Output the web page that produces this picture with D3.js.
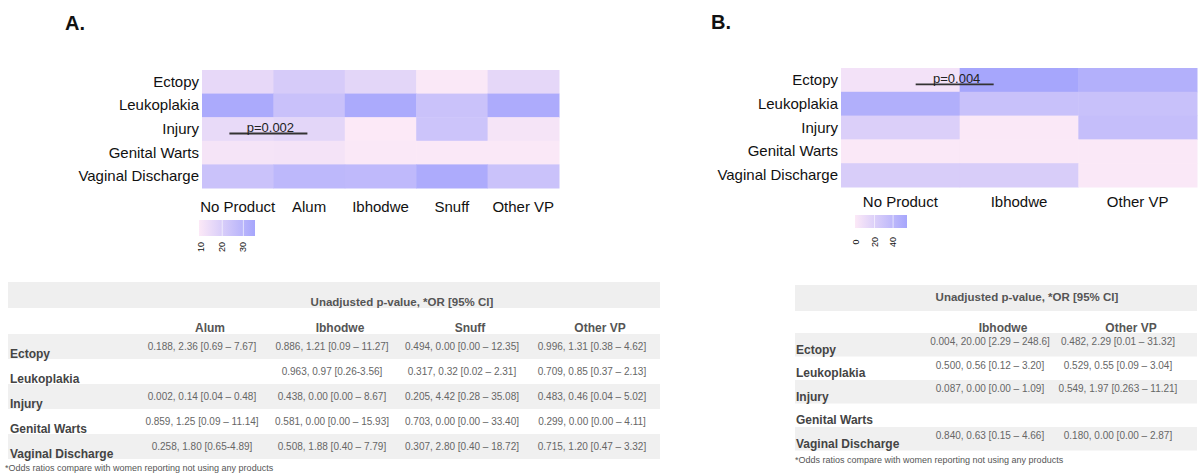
<!DOCTYPE html>
<html>
<head>
<meta charset="utf-8">
<script src="https://cdn.jsdelivr.net/npm/d3@7"></script>
<style>
  body { margin: 0; background: #fff; }
  svg text { font-family: "Liberation Sans", Arial, sans-serif; }
</style>
</head>
<body>
<div id="canvas"></div>
<script>
// rows of both heatmaps and both tables
const conditions = ["Ectopy", "Leukoplakia", "Injury", "Genital Warts", "Vaginal Discharge"]

// panel A heatmap (prevalence, %)
const productsA = ["No Product", "Alum", "Ibhodwe", "Snuff", "Other VP"]
const prevalenceA = [
  [16, 21, 17, 10, 16.5],
  [34, 25, 34, 24.5, 33.5],
  [15.5, 17, 9.5, 24, 11.5],
  [11.5, 12, 10, 10, 10],
  [24.5, 28.5, 28, 33.5, 24.5]
]
const colorDomainA = [9.5, 35.5]
const legendTicksA = [10, 20, 30]
const pNoteA = { row: "Injury", from: "No Product", to: "Alum", label: "p=0.002" }

// panel B heatmap
const productsB = ["No Product", "Ibhodwe", "Other VP"]
const prevalenceB = [
  [5.5, 55, 47],
  [48, 33, 33],
  [21, 1, 35],
  [1, 1, 1],
  [23, 23, 1]
]
const colorDomainB = [0, 55]
const legendTicksB = [0, 20, 40]
const pNoteB = { row: "Ectopy", from: "No Product", to: "Ibhodwe", label: "p=0.004" }

// tables
const tableTitle = "Unadjusted p-value, *OR [95% CI]"
const tableFootnote = "*Odds ratios compare with women reporting not using any  products"
const tableColsA = ["Alum", "Ibhodwe", "Snuff", "Other VP"]
const tableA = [
  ["0.188, 2.36 [0.69 \u2013 7.67]", "0.886, 1.21 [0.09 \u2013 11.27]", "0.494, 0.00 [0.00 \u2013 12.35]", "0.996, 1.31 [0.38 \u2013 4.62]"],
  ["", "0.963, 0.97 [0.26-3.56]", "0.317, 0.32 [0.02 \u2013 2.31]", "0.709, 0.85 [0.37 \u2013 2.13]"],
  ["0.002, 0.14 [0.04 \u2013 0.48]", "0.438, 0.00 [0.00 \u2013 8.67]", "0.205, 4.42 [0.28 \u2013 35.08]", "0.483, 0.46 [0.04 \u2013 5.02]"],
  ["0.859, 1.25 [0.09 \u2013 11.14]", "0.581, 0.00 [0.00 \u2013 15.93]", "0.703, 0.00 [0.00 \u2013 33.40]", "0.299, 0.00 [0.00 \u2013 4.11]"],
  ["0.258, 1.80 [0.65-4.89]", "0.508, 1.88 [0.40 \u2013 7.79]", "0.307, 2.80 [0.40 \u2013 18.72]", "0.715, 1.20 [0.47 \u2013 3.32]"]
]
const tableColsB = ["Ibhodwe", "Other VP"]
const tableB = [
  ["0.004, 20.00 [2.29 \u2013 248.6]", "0.482, 2.29 [0.01 \u2013 31.32]"],
  ["0.500, 0.56 [0.12 \u2013 3.20]", "0.529, 0.55 [0.09 \u2013 3.04]"],
  ["0.087, 0.00 [0.00 \u2013 1.09]", "0.549, 1.97 [0.263 \u2013 11.21]"],
  ["", ""],
  ["0.840, 0.63 [0.15 \u2013 4.66]", "0.180, 0.00 [0.00 \u2013 2.87]"]
]

let svg = {}

window.onload = function () { setup() }

function setup() {
  svg = d3.select("#canvas")
    .append("svg")
    .attr("width", 1199)
    .attr("height", 475)

  drawHeatmap({
    id: "A", title: "A.", titleX: 65, titleY: 30,
    products: productsA, values: prevalenceA, domain: colorDomainA,
    ticks: legendTicksA, note: pNoteA,
    x: [202, 559], y: [70, 188], colLabelY: 212,
    legendX: [199, 255], legendY: [220, 236], tickY: 247
  })
  drawHeatmap({
    id: "B", title: "B.", titleX: 711, titleY: 29,
    products: productsB, values: prevalenceB, domain: colorDomainB,
    ticks: legendTicksB, note: pNoteB,
    x: [841, 1197], y: [68, 187], colLabelY: 207,
    legendX: [855, 907], legendY: [215, 228], tickY: 242
  })

  drawTable({
    cols: tableColsA, cells: tableA,
    x: [8, 660], band: [282, 308], titleX: 402, titleY: 306,
    valRange: [137, 657], headDx: 8, headY: 332,
    rowTop: 334, rowH: 25, labelX: 10, labelDy: 23.5, valueDy: 15.5,
    footX: 5, footY: 471
  })
  drawTable({
    cols: tableColsB, cells: tableB,
    x: [795, 1197], band: [285, 311], titleX: 1027, titleY: 301,
    valRange: [926, 1182], headDx: 13, headY: 332,
    rowTop: 333, rowH: 23.5, labelX: 796, labelDy: 20.5, valueDy: 12,
    footX: 795, footY: 463
  })
}

function drawHeatmap(p) {
  let g = svg.append("g")

  g.append("text")
    .attr("x", p.titleX)
    .attr("y", p.titleY)
    .attr("font-size", 20)
    .attr("font-weight", "bold")
    .attr("fill", "#111")
    .text(p.title)

  let x = d3.scaleBand().domain(p.products).range(p.x)
  let y = d3.scaleBand().domain(conditions).range(p.y)
  let color = d3.scaleLinear()
    .domain(p.domain)
    .range(["#fce9f7", "#a6a6fc"])
    .interpolate(d3.interpolateRgb)
    .clamp(true)

  let cells = []
  conditions.forEach((c, i) => {
    p.products.forEach((prod, j) => {
      cells.push({ row: c, col: prod, value: p.values[i][j] })
    })
  })

  g.selectAll("rect.cell")
    .data(cells)
    .join("rect")
    .attr("class", "cell")
    .attr("x", d => x(d.col))
    .attr("y", d => y(d.row))
    .attr("width", x.bandwidth() + 0.5)
    .attr("height", y.bandwidth() + 0.5)
    .attr("fill", d => color(d.value))

  g.selectAll("text.rowlab")
    .data(conditions)
    .join("text")
    .attr("class", "rowlab")
    .attr("x", p.x[0] - 3)
    .attr("y", d => y(d) + y.bandwidth() / 2 + 5)
    .attr("text-anchor", "end")
    .attr("font-size", 15)
    .attr("fill", "#111")
    .text(d => d)

  g.selectAll("text.collab")
    .data(p.products)
    .join("text")
    .attr("class", "collab")
    .attr("x", d => x(d) + x.bandwidth() / 2)
    .attr("y", p.colLabelY)
    .attr("text-anchor", "middle")
    .attr("font-size", 15)
    .attr("fill", "#111")
    .text(d => d)

  // p-value annotation
  let mid = (x(p.note.from) + x(p.note.to)) / 2 + x.bandwidth() / 2 - 5
  let lineY = y(p.note.row) + y.bandwidth() * 0.69
  g.append("line")
    .attr("x1", mid - 39)
    .attr("x2", mid + 39)
    .attr("y1", lineY)
    .attr("y2", lineY)
    .attr("stroke", "#333")
    .attr("stroke-width", 1.8)
  g.append("text")
    .attr("x", mid + 2)
    .attr("y", lineY - 1.5)
    .attr("text-anchor", "middle")
    .attr("font-size", 13)
    .attr("fill", "#222")
    .text(p.note.label)

  // colour key
  let lx = d3.scaleLinear().domain(p.domain).range([p.legendX[0] + 1, p.legendX[1]])
  let grad = svg.append("defs").append("linearGradient")
    .attr("id", "grad" + p.id)
  grad.append("stop").attr("offset", "0%").attr("stop-color", color(p.domain[0]))
  grad.append("stop").attr("offset", "100%").attr("stop-color", color(p.domain[1]))

  g.append("rect")
    .attr("x", p.legendX[0])
    .attr("y", p.legendY[0])
    .attr("width", p.legendX[1] - p.legendX[0])
    .attr("height", p.legendY[1] - p.legendY[0])
    .attr("fill", "url(#grad" + p.id + ")")

  g.selectAll("line.sep")
    .data(p.ticks.slice(1))
    .join("line")
    .attr("class", "sep")
    .attr("x1", d => lx(d))
    .attr("x2", d => lx(d))
    .attr("y1", p.legendY[0])
    .attr("y2", p.legendY[1])
    .attr("stroke", "#fff")
    .attr("stroke-opacity", 0.6)

  g.selectAll("text.tick")
    .data(p.ticks)
    .join("text")
    .attr("class", "tick")
    .attr("transform", d => "translate(" + (lx(d) + 3) + "," + p.tickY + ") rotate(-90)")
    .attr("text-anchor", "middle")
    .attr("font-size", 9)
    .attr("fill", "#111")
    .text(d => d)
}

function drawTable(t) {
  let g = svg.append("g")
  let col = d3.scaleBand().domain(t.cols).range(t.valRange)
  let row = d3.scaleBand().domain(conditions)
    .range([t.rowTop, t.rowTop + t.rowH * conditions.length])

  g.append("rect")
    .attr("x", t.x[0])
    .attr("y", t.band[0])
    .attr("width", t.x[1] - t.x[0])
    .attr("height", t.band[1] - t.band[0])
    .attr("fill", "#efefef")

  g.append("text")
    .attr("x", t.titleX)
    .attr("y", t.titleY)
    .attr("text-anchor", "middle")
    .attr("font-size", 11.5)
    .attr("font-weight", "bold")
    .attr("fill", "#555")
    .text(tableTitle)

  g.selectAll("rect.stripe")
    .data(conditions.filter((d, i) => i % 2 == 0))
    .join("rect")
    .attr("class", "stripe")
    .attr("x", t.x[0])
    .attr("y", d => row(d))
    .attr("width", t.x[1] - t.x[0])
    .attr("height", row.bandwidth())
    .attr("fill", "#f0f0f0")

  g.selectAll("text.head")
    .data(t.cols)
    .join("text")
    .attr("class", "head")
    .attr("x", d => col(d) + col.bandwidth() / 2 + t.headDx)
    .attr("y", t.headY)
    .attr("text-anchor", "middle")
    .attr("font-size", 12)
    .attr("font-weight", "bold")
    .attr("fill", "#555")
    .text(d => d)

  g.selectAll("text.rlab")
    .data(conditions)
    .join("text")
    .attr("class", "rlab")
    .attr("x", t.labelX)
    .attr("y", d => row(d) + t.labelDy)
    .attr("font-size", 12)
    .attr("font-weight", "bold")
    .attr("fill", "#444")
    .text(d => d)

  let vals = []
  conditions.forEach((c, i) => {
    t.cols.forEach((k, j) => vals.push({ row: c, col: k, text: t.cells[i][j] }))
  })

  g.selectAll("text.val")
    .data(vals)
    .join("text")
    .attr("class", "val")
    .attr("x", d => col(d.col) + col.bandwidth() / 2)
    .attr("y", d => row(d.row) + t.valueDy)
    .attr("text-anchor", "middle")
    .attr("font-size", 10)
    .attr("fill", "#666")
    .text(d => d.text)

  g.append("text")
    .attr("x", t.footX)
    .attr("y", t.footY)
    .attr("font-size", 9)
    .attr("fill", "#555")
    .text(tableFootnote)
}
</script>
</body>
</html>
